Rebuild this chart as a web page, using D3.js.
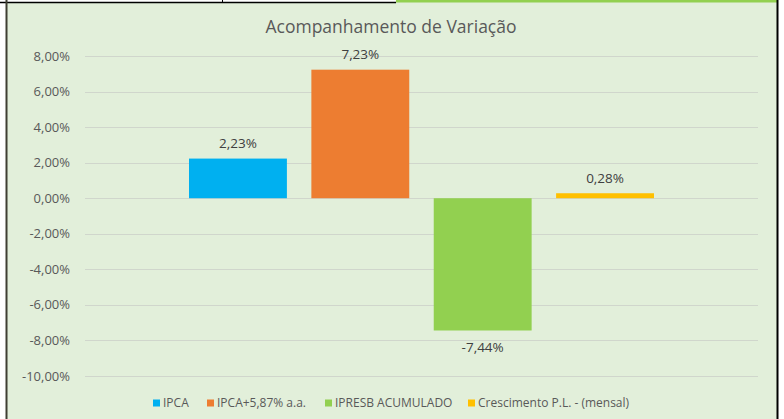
<!DOCTYPE html>
<html>
<head>
<meta charset="utf-8">
<script src="https://cdn.jsdelivr.net/npm/d3@7"></script>
<style>
  html, body { margin: 0; padding: 0; background: #fff; }
  svg { display: block; }
  text { font-family: "Open Sans", sans-serif; }
</style>
</head>
<body>
<svg id="chart" width="784" height="419"></svg>
<script>
var seriesNames = ['IPCA', 'IPCA+5,87% a.a.', 'IPRESB ACUMULADO', 'Crescimento P.L. - (mensal)'];
var seriesValues = [2.23, 7.23, -7.44, 0.28];
var seriesColors = ['#00B0F0', '#ED7D31', '#92D050', '#FFC000'];
var yTicks = [8, 6, 4, 2, 0, -2, -4, -6, -8, -10];
var legendX = [153, 207, 325, 468];

var WIDTH = 784;
var HEIGHT = 419;
var svg = d3.select('#chart');

var fmt = function (v) {
    return v.toFixed(2).replace('.', ',') + '%';
};

// sheet background and cell borders
svg.append('rect')
    .attr('x', 6).attr('y', 2)
    .attr('width', 771).attr('height', HEIGHT - 2)
    .attr('fill', '#E2EFDA');
svg.append('line')
    .attr('x1', 0).attr('x2', 396).attr('y1', 2.5).attr('y2', 2.5)
    .attr('stroke', '#000').attr('stroke-width', 1.5);
svg.append('line')
    .attr('x1', 396).attr('x2', 777).attr('y1', 1.2).attr('y2', 1.2)
    .attr('stroke', '#92D050').attr('stroke-width', 2.4);
svg.append('line')
    .attr('x1', 222.5).attr('x2', 222.5).attr('y1', 0).attr('y2', 3)
    .attr('stroke', '#000');
svg.append('line')
    .attr('x1', 6.5).attr('x2', 6.5).attr('y1', 0).attr('y2', HEIGHT)
    .attr('stroke', '#3f3f33').attr('stroke-width', 2);
svg.append('line')
    .attr('x1', 777.5).attr('x2', 777.5).attr('y1', 0).attr('y2', HEIGHT)
    .attr('stroke', '#000').attr('stroke-width', 2);

var yScale = d3.scaleLinear().domain([-10, 8]).range([376, 56]);
var xScale = d3.scaleBand()
    .domain(seriesNames)
    .range([85, 758])
    .paddingInner(0.2)
    .paddingOuter(0.85);

// gridlines
svg.append('g')
    .selectAll('line')
    .data(yTicks)
    .enter()
    .append('line')
    .attr('x1', 85).attr('x2', 758)
    .attr('y1', function (d) { return Math.round(yScale(d)) + 0.5; })
    .attr('y2', function (d) { return Math.round(yScale(d)) + 0.5; })
    .attr('stroke', '#D0D6CC')
    .attr('stroke-width', 1);

// y axis labels
svg.append('g')
    .selectAll('text')
    .data(yTicks)
    .enter()
    .append('text')
    .attr('x', 70)
    .attr('y', function (d) { return yScale(d); })
    .attr('dy', '0.35em')
    .attr('text-anchor', 'end')
    .attr('font-size', 13)
    .attr('fill', '#595959')
    .text(fmt);

// bars
var data = seriesNames.map(function (n, i) {
    return {name: n, value: seriesValues[i], color: seriesColors[i]};
});
svg.append('g')
    .selectAll('rect')
    .data(data)
    .enter()
    .append('rect')
    .attr('x', function (d) { return xScale(d.name); })
    .attr('width', xScale.bandwidth())
    .attr('y', function (d) { return yScale(Math.max(0, d.value)); })
    .attr('height', function (d) { return Math.abs(yScale(d.value) - yScale(0)); })
    .attr('fill', function (d) { return d.color; });

// value labels
svg.append('g')
    .selectAll('text')
    .data(data)
    .enter()
    .append('text')
    .attr('x', function (d) { return xScale(d.name) + xScale.bandwidth() / 2; })
    .attr('y', function (d) {
        return d.value >= 0 ? yScale(d.value) - 15 : yScale(d.value) + 17;
    })
    .attr('dy', '0.35em')
    .attr('text-anchor', 'middle')
    .attr('font-size', 13.5)
    .attr('fill', '#404040')
    .text(function (d) { return fmt(d.value); });

// title
svg.append('text')
    .attr('x', 391)
    .attr('y', 27)
    .attr('dy', '0.35em')
    .attr('text-anchor', 'middle')
    .attr('font-size', 17.5)
    .attr('fill', '#595959')
    .text('Acompanhamento de Variação');

// legend
var legend = svg.append('g')
    .selectAll('g')
    .data(data)
    .enter()
    .append('g')
    .attr('transform', function (d, i) { return 'translate(' + legendX[i] + ',403)'; });
legend.append('rect')
    .attr('x', 0).attr('y', -3.5)
    .attr('width', 7).attr('height', 7)
    .attr('fill', function (d) { return d.color; });
legend.append('text')
    .attr('x', 10)
    .attr('dy', '0.35em')
    .attr('font-size', 12)
    .attr('fill', '#595959')
    .text(function (d) { return d.name; });
</script>
</body>
</html>
